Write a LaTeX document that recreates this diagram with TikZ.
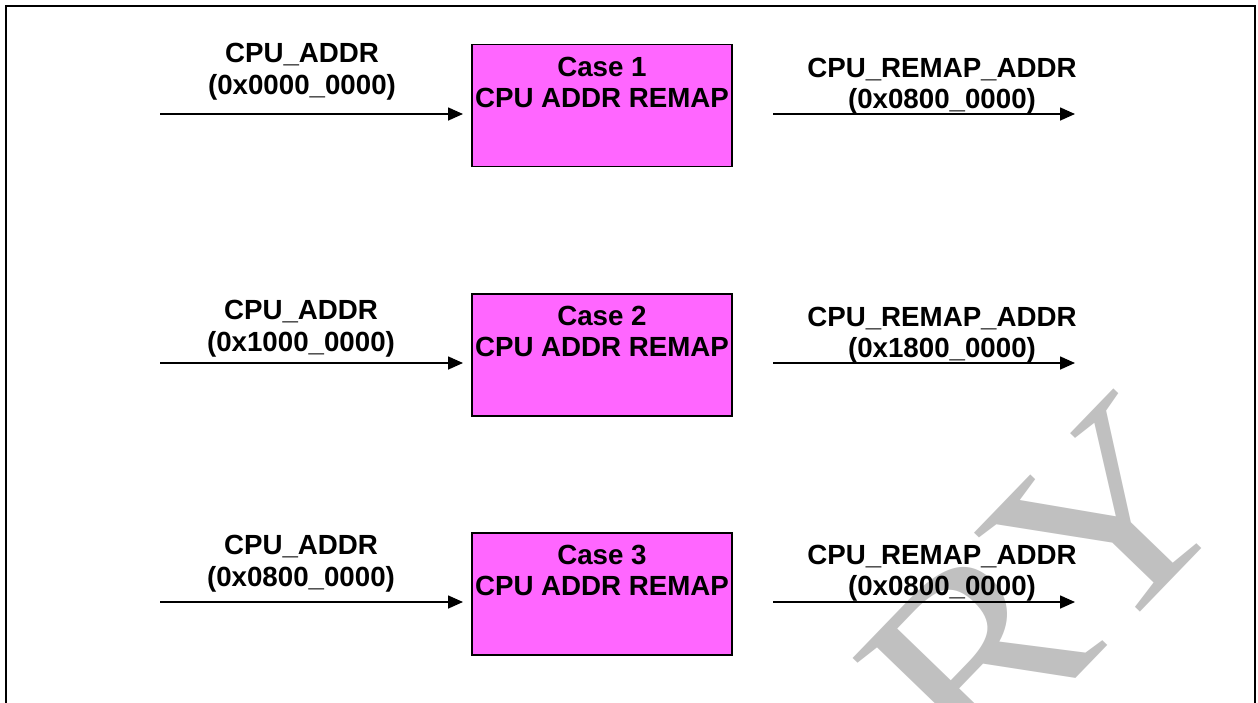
\documentclass[tikz,border=0pt]{standalone}
\usepackage{fontspec}
\setmainfont{Liberation Sans}
\newfontfamily\wmfont{Liberation Serif}
\usetikzlibrary{arrows.meta}
\definecolor{boxfill}{HTML}{FF66FF}
\definecolor{wmgray}{HTML}{C0C0C0}
\tikzset{
  remap/.style={draw=black, line width=1.5pt, fill=boxfill, minimum width=260pt, minimum height=122pt, inner sep=0pt},
  boxtext/.style={font=\bfseries\fontsize{27.7}{31}\selectfont, align=center, inner sep=0pt, anchor=north},
  inaddr/.style={font=\bfseries\fontsize{27.7}{32}\selectfont, align=center, inner sep=0pt, anchor=north},
  outaddr/.style={font=\bfseries\fontsize{27.7}{31}\selectfont, align=center, inner sep=0pt, anchor=north},
  sig/.style={line width=1.6pt, -{Triangle[length=15pt,width=13pt]}},
  frame/.style={line width=1.6pt},
  watermark/.style={font=\wmfont\fontsize{266}{266}\selectfont, text=wmgray, rotate=46, anchor=base east, inner sep=0pt}
}
\begin{document}
\begin{tikzpicture}[x=1pt,y=-1pt]
\useasboundingbox (0,0) rectangle (1258,702);
\clip (0,0) rectangle (1258,702);
\fill[white] (0,0) rectangle (1258,702);
% watermark
\node[watermark] (wm) at (1244,504) {\scalebox{1.1}[1]{PRELIMINARY}};
% frame
\draw[frame] (6,6) rectangle (1255,730);
% row 1
\node[remap] (box1) at (602,105.5) {};
\node[boxtext] (t1) at ([yshift=-13pt]box1.north) {Case 1\\CPU ADDR REMAP};
\coordinate (i1s) at (160,114);
\coordinate (i1e) at (463,114);
\coordinate (o1s) at (773,114);
\coordinate (o1e) at (1075,114);
\draw[sig] (i1s) -- (i1e);
\draw[sig] (o1s) -- (o1e);
\node[inaddr] (a1) at (302,43) {CPU\_ADDR\\(0x0000\_0000)};
\node[outaddr] (r1) at (942,58) {CPU\_REMAP\_ADDR\\(0x0800\_0000)};
% row 2
\node[remap] (box2) at (602,355) {};
\node[boxtext] (t2) at ([yshift=-13pt]box2.north) {Case 2\\CPU ADDR REMAP};
\coordinate (i2s) at (160,363);
\coordinate (i2e) at (463,363);
\coordinate (o2s) at (773,363);
\coordinate (o2e) at (1075,363);
\draw[sig] (i2s) -- (i2e);
\draw[sig] (o2s) -- (o2e);
\node[inaddr] (a2) at (301,300) {CPU\_ADDR\\(0x1000\_0000)};
\node[outaddr] (r2) at (942,307) {CPU\_REMAP\_ADDR\\(0x1800\_0000)};
% row 3
\node[remap] (box3) at (602,594) {};
\node[boxtext] (t3) at ([yshift=-13pt]box3.north) {Case 3\\CPU ADDR REMAP};
\coordinate (i3s) at (160,602);
\coordinate (i3e) at (463,602);
\coordinate (o3s) at (773,602);
\coordinate (o3e) at (1075,602);
\draw[sig] (i3s) -- (i3e);
\draw[sig] (o3s) -- (o3e);
\node[inaddr] (a3) at (301,535) {CPU\_ADDR\\(0x0800\_0000)};
\node[outaddr] (r3) at (942,545) {CPU\_REMAP\_ADDR\\(0x0800\_0000)};
\end{tikzpicture}
\end{document}
